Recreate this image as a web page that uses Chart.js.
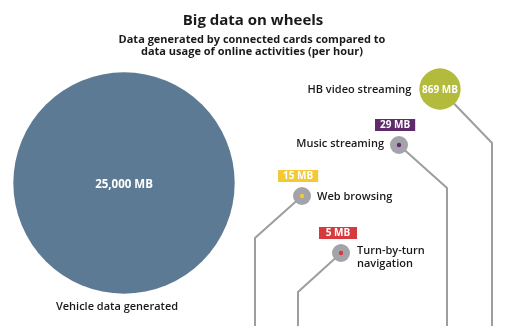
<!DOCTYPE html>
<html>
<head>
<meta charset="utf-8">
<script src="https://cdn.jsdelivr.net/npm/chart.js@4"></script>
<style>
  html, body { margin: 0; padding: 0; background: #fff; }
  #wrap { width: 510px; height: 326px; }
</style>
</head>
<body>
<div id="wrap"><canvas id="chart" width="510" height="326"></canvas></div>
<script>
// --- data ---
const categories = ['Vehicle data generated', 'HB video streaming', 'Music streaming', 'Web browsing', 'Turn-by-turn navigation'];
const valuesMB = [25000, 869, 29, 15, 5];
const valueLabels = ['25,000 MB', '869 MB', '29 MB', '15 MB', '5 MB'];

// --- layout (canvas-like units, y grows downward) ---
const xPos = [124, 440, 399, 302, 341];
const yPos = [183, 89, 145, 196, 253];
const bendX = [null, 492, 447, 255, 298];
const bendY = [null, 143, 188, 238, 292];
const bubbleColors = ['#5d7a95', '#b3bb3c', '#a3a3aa', '#a3a3aa', '#a3a3aa'];
const accentColors = [null, null, '#5f2b6b', '#f2c936', '#d73a3d'];
const tagLeft = [null, null, -24, -24, -22];   // tag box left edge, relative to bubble centre

const FONT = '"Open Sans", "DejaVu Sans", sans-serif';

function radiusFor(v){
    return Math.max(9, 0.7 * Math.sqrt(v));
}

const points = valuesMB.map((v, i) => ({x: xPos[i], y: yPos[i], r: radiusFor(v)}));

// connector lines behind the bubbles
const connectorPlugin = {
    id: 'connectors',
    beforeDatasetsDraw(chart){
        const {ctx, scales: {x, y}} = chart;
        const meta = chart.getDatasetMeta(0);
        ctx.save();
        ctx.strokeStyle = '#9e9e9e';
        ctx.lineWidth = 2;
        meta.data.forEach((el, i) => {
            if (bendX[i] === null) return;
            const bx = x.getPixelForValue(bendX[i]);
            const by = y.getPixelForValue(bendY[i]);
            ctx.beginPath();
            ctx.moveTo(el.x, el.y);
            ctx.lineTo(bx, by);
            ctx.lineTo(bx, y.bottom);
            ctx.stroke();
        });
        ctx.restore();
    }
};

// title, value labels, category labels and inner dots
const labelPlugin = {
    id: 'labels',
    afterDatasetsDraw(chart){
        const {ctx} = chart;
        const meta = chart.getDatasetMeta(0);
        ctx.save();
        ctx.textBaseline = 'middle';

        // title
        ctx.fillStyle = '#1a1a1a';
        ctx.textAlign = 'center';
        ctx.font = 'bold 15px ' + FONT;
        ctx.fillText('Big data on wheels', 253, 21);
        ctx.font = 'bold 11px ' + FONT;
        ctx.fillText('Data generated by connected cards compared to', 252, 40);
        ctx.fillText('data usage of online activities (per hour)', 252, 52);

        meta.data.forEach((el, i) => {
            const r = el.options.radius;
            if (i < 2) {
                // value printed inside the bubble
                ctx.fillStyle = '#ffffff';
                ctx.textAlign = 'center';
                ctx.font = 'bold ' + (i === 0 ? 11.5 : 10) + 'px ' + FONT;
                ctx.fillText(valueLabels[i], el.x, el.y + (i === 0 ? 2 : 1));
            } else {
                // inner dot
                ctx.fillStyle = accentColors[i];
                ctx.beginPath();
                ctx.arc(el.x, el.y, 2.2, 0, Math.PI * 2);
                ctx.fill();
                // value tag
                ctx.font = 'bold 10px ' + FONT;
                const tw = ctx.measureText(valueLabels[i]).width;
                const bw = Math.max(tw + 10, 38), bh = 12;
                const bx = el.x + tagLeft[i];
                const by = el.y - r - 17;
                ctx.fillStyle = accentColors[i];
                ctx.fillRect(bx, by, bw, bh);
                ctx.fillStyle = '#ffffff';
                ctx.textAlign = 'center';
                ctx.fillText(valueLabels[i], bx + bw / 2, by + bh / 2 + 0.5);
            }
        });

        // category labels
        ctx.fillStyle = '#1a1a1a';
        ctx.font = '600 11px ' + FONT;
        const d = meta.data;
        ctx.textAlign = 'center';
        ctx.fillText(categories[0], 117, 307);
        ctx.textAlign = 'right';
        ctx.fillText(categories[1], d[1].x - d[1].options.radius - 8, d[1].y + 1);
        ctx.fillText(categories[2], d[2].x - 15, d[2].y - 1);
        ctx.textAlign = 'left';
        ctx.fillText(categories[3], d[3].x + 15, d[3].y + 1);
        ctx.fillText('Turn-by-turn', d[4].x + 16, d[4].y - 2);
        ctx.fillText('navigation', d[4].x + 16, d[4].y + 11);
        ctx.restore();
    }
};

new Chart(document.getElementById('chart'), {
    type: 'bubble',
    data: {
        labels: categories,
        datasets: [{
            data: points,
            backgroundColor: bubbleColors,
            borderWidth: 0,
            hoverBorderWidth: 0,
            clip: false
        }]
    },
    options: {
        responsive: false,
        animation: false,
        events: [],
        layout: {padding: 0, autoPadding: false},
        plugins: {
            legend: {display: false},
            tooltip: {enabled: false}
        },
        scales: {
            x: {type: 'linear', min: 0, max: 510, display: false},
            y: {type: 'linear', min: 0, max: 326, reverse: true, display: false}
        }
    },
    plugins: [connectorPlugin, labelPlugin]
});
</script>
</body>
</html>
